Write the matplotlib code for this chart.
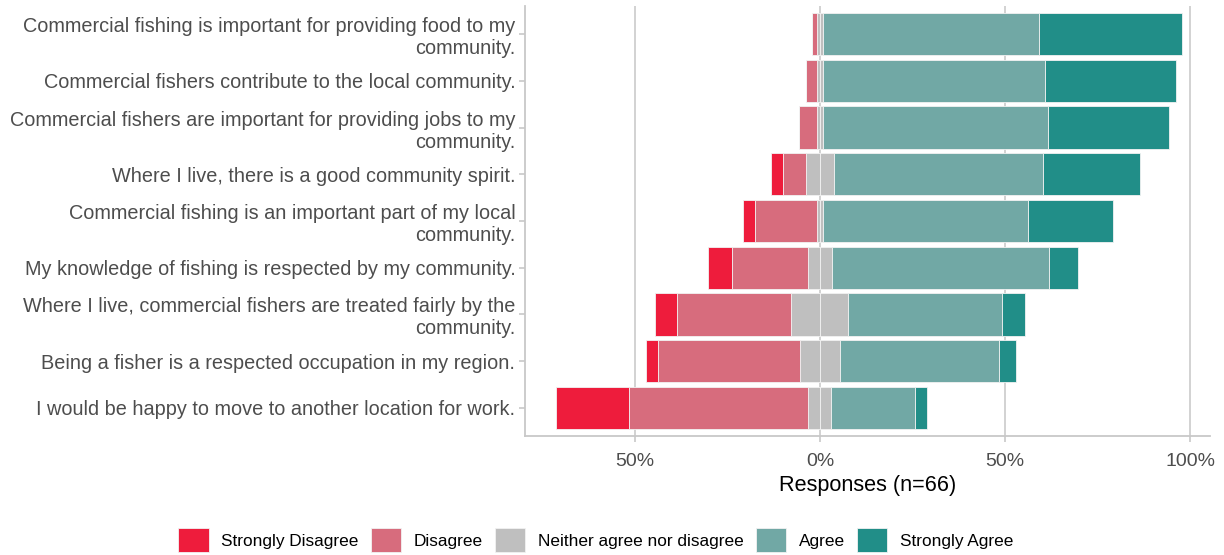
import matplotlib
matplotlib.use("Agg")
import matplotlib.pyplot as plt
from matplotlib.patches import Patch
import numpy as np

plt.rcParams['font.family'] = ['Liberation Sans', 'DejaVu Sans']

statements = [
    "Commercial fishing is important for providing food to my\ncommunity.",
    "Commercial fishers contribute to the local community.",
    "Commercial fishers are important for providing jobs to my\ncommunity.",
    "Where I live, there is a good community spirit.",
    "Commercial fishing is an important part of my local\ncommunity.",
    "My knowledge of fishing is respected by my community.",
    "Where I live, commercial fishers are treated fairly by the\ncommunity.",
    "Being a fisher is a respected occupation in my region.",
    "I would be happy to move to another location for work.",
]
strongly_disagree = [0.0, 0.0, 0.0, 3.3, 3.1, 6.4, 6.1, 3.1, 19.7]
disagree = [1.5, 3.0, 4.8, 6.2, 16.9, 20.7, 30.8, 38.4, 48.4]
neutral = [1.5, 1.5, 1.5, 7.7, 1.5, 6.3, 15.4, 10.8, 6.2]
agree = [58.5, 60.0, 60.9, 56.3, 55.4, 58.7, 41.6, 43.1, 22.7]
strongly_agree = [38.5, 35.5, 32.8, 26.4, 23.0, 7.9, 6.1, 4.6, 3.0]

categories = ["Strongly Disagree", "Disagree", "Neither agree nor disagree",
              "Agree", "Strongly Agree"]
colors = ["#EE1C3C", "#D76C7D", "#BFBFBF", "#71A8A5", "#218E88"]

tick_vals = [-50, 0, 50, 100]
tick_labels = ["50%", "0%", "50%", "100%"]

sd = np.array(strongly_disagree)
d = np.array(disagree)
n = np.array(neutral)
a = np.array(agree)
sa = np.array(strongly_agree)

fig = plt.figure(figsize=(12.24, 5.55), dpi=100)
ax = fig.add_axes([525/1224, 1-436/555, (1210-525)/1224, (436-6)/555])

y = np.arange(len(statements))[::-1]
h = 0.9
ec = dict(edgecolor="#f2f2f2", linewidth=0.6)

# negative side
ax.barh(y, -n/2, left=0, height=h, color=colors[2], **ec, zorder=3)
ax.barh(y, -d, left=-n/2, height=h, color=colors[1], **ec, zorder=3)
ax.barh(y, -sd, left=-n/2 - d, height=h, color=colors[0], **ec, zorder=3)
# positive side
ax.barh(y, n/2, left=0, height=h, color=colors[2], **ec, zorder=3)
ax.barh(y, a, left=n/2, height=h, color=colors[3], **ec, zorder=3)
ax.barh(y, sa, left=n/2 + a, height=h, color=colors[4], **ec, zorder=3)

ax.set_xlim(-79.7, 105.4)
ax.set_ylim(-0.6, len(statements) - 0.4)
ax.set_yticks(y)
ax.set_yticklabels(statements, fontsize=14.3, color="#4d4d4d", linespacing=1.2)
ax.set_xticks(tick_vals)
ax.set_xticklabels(tick_labels, fontsize=14, color="#4d4d4d")
ax.set_xlabel("Responses (n=66)", fontsize=15.6, color="black", labelpad=4)

for v in tick_vals:
    ax.axvline(v, color="#cfcfcf", linewidth=1.3, zorder=1)

for side in ["top", "right"]:
    ax.spines[side].set_visible(False)
for side in ["left", "bottom"]:
    ax.spines[side].set_color("#c8c8c8")
    ax.spines[side].set_linewidth(1.3)
ax.tick_params(axis="y", color="#c8c8c8", width=1.2, length=4, pad=3)
ax.tick_params(axis="x", color="#c8c8c8", width=1.2, length=4, pad=8)

handles = [Patch(facecolor=c, edgecolor="#f2f2f2", linewidth=0.6) for c in colors]
fig.legend(handles, categories, loc="center", bbox_to_anchor=(596/1224, 1-540/555),
           ncol=5, frameon=False, fontsize=12.4, handlelength=1.75, handleheight=1.75,
           handletextpad=0.75, columnspacing=0.7)

fig.savefig("out.png", dpi=100)
